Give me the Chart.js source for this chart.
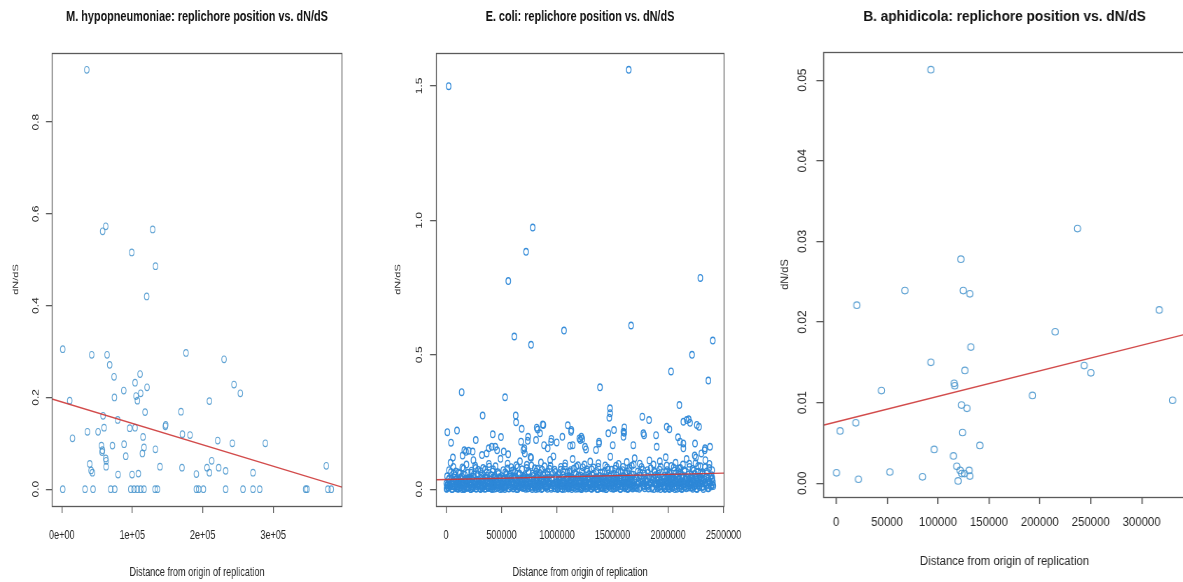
<!DOCTYPE html>
<html><head><meta charset="utf-8">
<script src="https://cdn.jsdelivr.net/npm/chart.js@4.4.1/dist/chart.umd.min.js"></script>
<style>
html,body{margin:0;padding:0;background:#fff;overflow:hidden;width:1183px;height:582px;position:relative;}
canvas{position:absolute;top:0;transform-origin:0 0;}
</style></head><body>
<canvas id="c1" width="546" height="582" style="left:0px;transform:scaleX(0.7)"></canvas>
<canvas id="c2" width="549" height="582" style="left:380px;transform:scaleX(0.7)"></canvas>
<canvas id="c3" width="480" height="582" style="left:770px;transform:scaleX(0.95)"></canvas>
<script>
// ---------- M. hypopneumoniae ----------
const mhypX = [35500,58000,62400,129000,99300,133000,120500,
  1400,42500,64300,68000,74200,104000,111100,121000,88000,74700,
  105400,107300,112000,11300,176300,230300,244400,253400,209500,169200,
  118200,58600,79400,147500,147000,96400,104000,36400,51500,60000,
  115300,15200,171200,182000,221300,242100,288900,88400,71900,56300,
  57700,57200,116700,132900,114400,90800,62400,63000,212800,39700,
  62900,139400,170600,206100,222700,375400,41600,43500,209500,232600,
  271400,79900,99800,108700,191000,
  1400,33000,44400,69500,75200,97900,102600,107300,112000,116700,
  132400,135700,191000,194300,201000,232600,257200,271400,280900,346100,
  348000,377700,382500];
const mhypY = [0.914,0.562,0.573,0.566,0.516,0.486,0.42,
  0.305,0.293,0.293,0.271,0.245,0.232,0.251,0.222,0.215,0.2,
  0.203,0.193,0.209,0.193,0.297,0.283,0.228,0.209,0.192,0.169,
  0.168,0.16,0.151,0.14,0.137,0.133,0.134,0.125,0.125,0.134,
  0.114,0.111,0.12,0.118,0.106,0.1,0.1,0.098,0.095,0.095,
  0.085,0.081,0.091,0.087,0.078,0.072,0.067,0.062,0.062,0.055,
  0.049,0.049,0.047,0.047,0.047,0.051,0.041,0.036,0.036,0.04,
  0.036,0.032,0.032,0.034,0.033,
  0,0,0,0,0,0,0,0,0,0,
  0,0,0,0,0,0,0,0,0,0,
  0,0,0];
const mhypLineX = [-13844, 397744];
const mhypLineY = [0.1967, 0.0044];
const mhypXTicks = [0, 100000, 200000, 300000];
const mhypXLabels = ["0e+00", "1e+05", "2e+05", "3e+05"];
const mhypYTicks = [0, 0.2, 0.4, 0.6, 0.8];
const mhypYLabels = ["0.0", "0.2", "0.4", "0.6", "0.8"];

// ---------- E. coli ----------
const ecoliBandX = [
  8000,14000,21000,30000,37000,45000,52000,60000,66000,73000,79000,86000,91000,97000,41000,62000,
  104000,109000,117000,123000,131000,138000,144000,152000,158000,165000,171000,177000,184000,190000,196000,149000,
  203000,210000,216000,224000,229000,236000,243000,250000,257000,263000,270000,276000,283000,289000,295000,247000,
  302000,308000,315000,321000,328000,334000,341000,347000,354000,360000,367000,373000,380000,386000,393000,399000,
  401000,407000,414000,420000,427000,433000,440000,446000,452000,459000,465000,472000,478000,485000,491000,497000,
  503000,509000,516000,522000,529000,535000,542000,548000,555000,561000,568000,574000,581000,587000,594000,598000,
  601000,608000,614000,620000,627000,633000,640000,646000,653000,659000,666000,672000,679000,685000,692000,698000,
  702000,709000,715000,722000,728000,735000,741000,748000,754000,761000,767000,774000,780000,787000,793000,799000,
  803000,809000,816000,822000,829000,835000,842000,848000,855000,861000,868000,874000,881000,887000,894000,899000,
  902000,908000,915000,921000,928000,934000,941000,948000,956000,963000,971000,979000,986000,993000,938000,967000,
  1003000,1009000,1016000,1022000,1029000,1035000,1042000,1048000,1055000,1061000,1068000,1074000,1081000,1087000,1094000,1099000,
  1102000,1108000,1115000,1121000,1128000,1134000,1141000,1147000,1154000,1160000,1167000,1173000,1180000,1186000,1193000,1198000,
  1203000,1209000,1216000,1222000,1229000,1235000,1242000,1248000,1255000,1261000,1268000,1274000,1281000,1287000,1294000,1299000,
  1302000,1308000,1315000,1321000,1328000,1334000,1341000,1347000,1354000,1360000,1367000,1373000,1380000,1386000,1393000,1399000,
  1402000,1408000,1415000,1421000,1428000,1434000,1441000,1447000,1454000,1460000,1467000,1473000,1480000,1486000,1493000,1499000,
  1503000,1509000,1516000,1522000,1529000,1535000,1542000,1548000,1555000,1561000,1568000,1574000,1581000,1587000,1594000,1599000,
  1602000,1608000,1615000,1621000,1628000,1634000,1641000,1647000,1654000,1660000,1667000,1673000,1680000,1686000,1693000,1699000,
  1703000,1711000,1719000,1727000,1736000,1744000,1752000,1761000,1769000,1778000,1786000,1794000,1745000,1772000,
  1803000,1811000,1819000,1828000,1836000,1844000,1853000,1861000,1869000,1878000,1886000,1894000,1832000,1874000,
  1902000,1909000,1916000,1923000,1930000,1937000,1956000,1962000,1969000,1975000,1982000,1988000,1995000,1999000,1926000,1979000,
  2003000,2009000,2016000,2022000,2029000,2035000,2042000,2048000,2055000,2061000,2068000,2074000,2081000,2087000,2094000,2099000,
  2102000,2108000,2115000,2121000,2128000,2134000,2141000,2147000,2154000,2160000,2167000,2173000,2180000,2186000,2193000,2199000,
  2202000,2208000,2215000,2221000,2228000,2234000,2241000,2247000,2254000,2260000,2268000,2276000,2284000,2292000,2251000,2289000,
  2302000,2309000,2317000,2325000,2333000,2341000,2349000,2357000,2365000,2373000,2381000,2389000,2397000,2404000,2336000,2392000];
const ecoliBandY = [
  .003,.018,.007,.041,.012,.064,.001,.029,.083,.010,.052,.016,.036,.005,.098,.118,
  .011,.002,.034,.058,.015,.006,.047,.022,.077,.001,.013,.039,.092,.008,.061,.125,
  .006,.043,.014,.001,.069,.025,.009,.055,.017,.087,.004,.033,.012,.072,.021,.108,
  .015,.003,.051,.027,.008,.079,.019,.002,.044,.013,.062,.031,.005,.094,.023,.011,
  .009,.036,.001,.066,.018,.011,.049,.085,.004,.028,.016,.057,.007,.039,.113,.021,
  .002,.024,.071,.013,.042,.006,.058,.017,.095,.031,.003,.047,.011,.082,.026,.014,
  .017,.005,.038,.063,.010,.089,.022,.001,.053,.014,.104,.033,.007,.074,.019,.046,
  .008,.052,.016,.029,.091,.003,.067,.012,.041,.021,.117,.006,.058,.035,.015,.078,
  .013,.001,.045,.076,.024,.009,.061,.018,.099,.035,.004,.054,.027,.085,.011,.039,
  .006,.027,.064,.011,.042,.019,.087,.002,.033,.058,.015,.072,.004,.046,.109,.122,
  .019,.004,.056,.031,.012,.083,.025,.001,.067,.043,.009,.096,.016,.037,.062,.008,
  .003,.048,.014,.071,.026,.007,.112,.039,.018,.059,.002,.084,.029,.011,.051,.021,
  .011,.034,.002,.065,.017,.045,.008,.092,.027,.014,.074,.005,.039,.057,.021,.103,
  .016,.003,.053,.028,.081,.010,.041,.019,.068,.001,.035,.097,.013,.049,.024,.007,
  .005,.062,.022,.011,.044,.088,.001,.031,.015,.073,.038,.009,.121,.055,.018,.027,
  .014,.037,.004,.076,.025,.052,.009,.018,.094,.042,.002,.066,.029,.012,.083,.048,
  .008,.023,.059,.013,.101,.036,.003,.071,.019,.046,.011,.087,.027,.054,.006,.115,
  .012,.039,.004,.066,.021,.051,.008,.083,.029,.015,.058,.034,.095,.072,
  .028,.009,.061,.017,.044,.078,.003,.035,.092,.022,.052,.012,.107,.069,
  .019,.047,.006,.073,.031,.013,.011,.038,.002,.064,.024,.088,.016,.052,.104,.119,
  .004,.032,.057,.015,.086,.009,.043,.021,.069,.001,.098,.027,.012,.049,.036,.077,
  .013,.061,.025,.003,.044,.092,.017,.071,.008,.036,.112,.021,.054,.006,.083,.031,
  .007,.042,.018,.075,.029,.011,.058,.097,.003,.036,.064,.014,.047,.085,.118,.024,
  .021,.056,.009,.038,.081,.017,.066,.031,.004,.094,.045,.013,.071,.027,.108,.052];
const ecoliLowX = [
  5000,12000,19000,28000,36000,47000,58000,69000,81000,93000,
  103000,110000,118000,125000,133000,144000,153000,164000,176000,188000,
  207000,214000,222000,230000,239000,250000,261000,272000,284000,295000,
  305000,312000,319000,328000,336000,347000,358000,369000,381000,393000,
  403000,410000,417000,425000,433000,444000,453000,464000,476000,488000,
  507000,514000,522000,530000,539000,550000,561000,572000,584000,595000,
  605000,612000,619000,628000,636000,647000,658000,669000,681000,693000,
  703000,710000,717000,725000,733000,744000,753000,764000,776000,788000,
  807000,814000,822000,830000,839000,850000,861000,872000,884000,895000,
  905000,913000,926000,944000,958000,975000,990000,
  1005000,1012000,1019000,1028000,1036000,1047000,1058000,1069000,1081000,1093000,
  1103000,1110000,1117000,1125000,1133000,1144000,1153000,1164000,1176000,1188000,
  1207000,1214000,1222000,1230000,1239000,1250000,1261000,1272000,1284000,1295000,
  1305000,1312000,1319000,1328000,1336000,1347000,1358000,1369000,1381000,1393000,
  1403000,1410000,1417000,1425000,1433000,1444000,1453000,1464000,1476000,1488000,
  1507000,1514000,1522000,1530000,1539000,1550000,1561000,1572000,1584000,1595000,
  1605000,1612000,1619000,1628000,1636000,1647000,1658000,1669000,1681000,1693000,
  1708000,1724000,1741000,1757000,1776000,1790000,
  1807000,1823000,1840000,1858000,1873000,1890000,
  1905000,1913000,1921000,1933000,1941000,1958000,1966000,1974000,1986000,1994000,
  2005000,2012000,2019000,2028000,2036000,2047000,2058000,2069000,2081000,2093000,
  2103000,2110000,2118000,2125000,2133000,2144000,2153000,2164000,2176000,2188000,
  2207000,2214000,2222000,2230000,2239000,2250000,2261000,2272000,2284000,2295000,
  2305000,2318000,2331000,2346000,2359000,2372000,2386000,2401000];
const ecoliLowY = [
  .002,.014,.006,.025,.009,.019,.001,.031,.011,.004,
  .012,.003,.022,.007,.028,.001,.016,.009,.034,.005,
  .007,.027,.001,.013,.004,.021,.010,.002,.018,.030,
  .010,.001,.017,.005,.024,.012,.003,.029,.008,.020,
  .004,.019,.009,.032,.002,.013,.024,.006,.015,.001,
  .015,.006,.028,.001,.011,.035,.004,.018,.008,.023,
  .003,.021,.010,.016,.001,.026,.007,.033,.012,.005,
  .020,.008,.002,.029,.013,.005,.023,.010,.001,.017,
  .006,.030,.012,.003,.019,.009,.001,.025,.014,.008,
  .011,.002,.021,.007,.015,.004,.026,
  .001,.017,.008,.024,.004,.013,.031,.002,.020,.010,
  .013,.005,.027,.009,.001,.019,.006,.034,.011,.003,
  .004,.022,.001,.015,.010,.028,.003,.012,.007,.025,
  .018,.002,.011,.006,.031,.009,.020,.001,.014,.005,
  .009,.026,.003,.014,.007,.001,.021,.011,.033,.004,
  .002,.012,.024,.005,.017,.008,.029,.001,.010,.019,
  .014,.004,.009,.030,.001,.018,.006,.023,.003,.012,
  .006,.018,.002,.027,.010,.004,
  .015,.003,.023,.008,.001,.019,
  .003,.020,.011,.001,.026,.007,.016,.002,.030,.009,
  .010,.001,.028,.014,.005,.021,.008,.033,.002,.017,
  .005,.024,.012,.001,.018,.009,.030,.004,.014,.022,
  .019,.006,.002,.027,.011,.015,.001,.023,.008,.032,
  .008,.001,.022,.013,.004,.029,.010,.017];
const ecoliLow2X = [
  3000,16000,24000,33000,54000,64000,76000,99000,
  107000,121000,136000,148000,160000,173000,182000,198000,
  201000,218000,233000,242000,255000,268000,279000,292000,
  301000,316000,325000,339000,350000,363000,376000,397000,
  406000,421000,430000,438000,456000,470000,482000,494000,
  501000,519000,526000,544000,557000,566000,577000,589000,
  603000,616000,631000,642000,651000,663000,676000,688000,
  707000,720000,731000,738000,757000,771000,782000,796000,
  801000,818000,826000,845000,857000,866000,877000,891000,
  910000,931000,951000,968000,982000,
  1001000,1015000,1025000,1039000,1051000,1064000,1077000,1090000,
  1106000,1120000,1130000,1138000,1157000,1170000,1183000,1196000,
  1201000,1219000,1226000,1245000,1257000,1266000,1278000,1290000,
  1303000,1317000,1331000,1339000,1352000,1364000,1377000,1397000,
  1406000,1419000,1430000,1438000,1457000,1470000,1483000,1496000,
  1501000,1518000,1526000,1545000,1557000,1566000,1578000,1590000,
  1603000,1617000,1625000,1639000,1650000,1664000,1677000,1696000,
  1732000,1766000,1783000,
  1815000,1848000,1866000,
  1907000,1918000,1929000,1960000,1972000,1984000,1997000,
  2001000,2014000,2025000,2039000,2051000,2064000,2077000,2096000,
  2106000,2119000,2130000,2138000,2157000,2170000,2183000,2196000,
  2201000,2218000,2226000,2244000,2257000,2266000,2279000,2297000,
  2312000,2338000,2362000,2379000,2395000,2408000];
const ecoliLow2Y = [
  .021,.008,.037,.015,.026,.011,.042,.019,
  .029,.017,.040,.024,.003,.031,.020,.036,
  .033,.019,.038,.008,.041,.026,.035,.016,
  .022,.040,.013,.034,.018,.043,.009,.037,
  .026,.012,.043,.021,.038,.030,.042,.010,
  .020,.038,.009,.027,.043,.019,.033,.040,
  .027,.043,.018,.035,.012,.040,.024,.029,
  .038,.015,.040,.024,.032,.042,.026,.009,
  .021,.037,.042,.028,.016,.041,.033,.022,
  .036,.028,.040,.021,.012,
  .027,.036,.015,.042,.021,.030,.011,.039,
  .022,.037,.033,.041,.026,.014,.043,.031,
  .031,.008,.041,.020,.036,.023,.042,.017,
  .027,.039,.022,.036,.012,.043,.030,.040,
  .035,.041,.028,.020,.042,.026,.016,.039,
  .027,.041,.033,.038,.020,.043,.036,.025,
  .031,.040,.024,.041,.028,.037,.016,.035,
  .031,.040,.022,
  .030,.026,.041,
  .032,.040,.023,.027,.041,.035,.029,
  .024,.039,.041,.030,.036,.027,.042,.020,
  .038,.030,.041,.027,.039,.042,.035,.015,
  .026,.040,.036,.021,.043,.030,.038,.041,
  .035,.026,.040,.024,.038,.012];
const ecoliMidX = [
  10000,27000,49000,71000,88000, 113000,128000,147000,169000,186000,
  206000,227000,245000,266000,287000, 311000,331000,352000,371000,389000,
  405000,424000,443000,468000,486000, 512000,533000,553000,571000,592000,
  606000,624000,644000,663000,689000, 706000,726000,746000,769000,784000,
  812000,826000,846000,866000,891000, 911000,932000,952000,984000,
  1013000,1033000,1051000,1071000,1091000, 1111000,1131000,1150000,1171000,1189000,
  1212000,1232000,1251000,1271000,1291000, 1311000,1331000,1351000,1371000,1391000,
  1412000,1431000,1451000,1471000,1491000, 1511000,1532000,1551000,1571000,1591000,
  1611000,1631000,1651000,1671000,1691000, 1715000,1748000,1781000, 1815000,1849000,1881000,
  1911000,1934000,1964000,1991000, 2011000,2031000,2051000,2071000,2091000,
  2111000,2131000,2151000,2171000,2191000, 2211000,2231000,2251000,2271000,2291000,
  2313000,2343000,2371000,2399000];
const ecoliMidY = [
  .048,.071,.039,.058,.066, .062,.044,.081,.053,.037,
  .039,.061,.047,.079,.055, .067,.038,.073,.049,.084,
  .052,.074,.041,.063,.045, .036,.063,.077,.054,.068,
  .071,.046,.082,.058,.039, .044,.079,.061,.088,.049,
  .066,.052,.037,.072,.059, .053,.076,.041,.064,
  .041,.072,.053,.085,.047, .065,.043,.076,.056,.089,
  .051,.082,.038,.066,.046, .074,.058,.044,.083,.061,
  .039,.068,.081,.047,.072, .058,.087,.064,.041,.071,
  .043,.066,.079,.055,.092, .047,.062,.041, .071,.038,.064,
  .058,.084,.049,.071, .062,.044,.081,.059,.067,
  .079,.052,.066,.043,.095, .055,.069,.042,.086,.061,
  .063,.046,.079,.041];
const ecoliHighX = [24000,1646000,781000,721000,561000,2291000,615000,766000,1063000,1667000,
  2403000,2216000,2027000,2363000,1387000,141000,532000,2102000,1477000,1471000,
  330000,628000,1768000,1829000,631000,2186000,2138000,877000,817000,1097000,
  1129000,682000,12000,99000,45000,421000,495000,268000,739000,1513000,
  1606000,1606000,1462000,1784000,1892000,1988000,2012000,2259000,2279000,2090000,
  2138000,1048000,949000,997000,1219000,1228000,1210000,1378000,1351000,1261000,
  1687000,883000,1117000,1898000,1502000,2378000,204000,165000,240000,366000,
  444000,460000,520000,560000,697000,710000,760000,2330000,2300000,2240000,
  676000,736000,811000,826000,871000,847000,946000,1141000,1201000,180000,
  324000,385000,412000,706000,916000,1126000,1478000,2168000,2198000,1598000,
  1598000,1778000,1378000,1252000,2108000,2138000,2243000,2333000];
const ecoliHighY = [1.499,1.56,0.973,0.883,0.774,0.786,0.568,0.537,0.59,0.609,
  0.553,0.5,0.438,0.404,0.379,0.361,0.342,0.313,0.301,0.266,
  0.274,0.274,0.27,0.257,0.249,0.26,0.251,0.239,0.229,0.238,
  0.22,0.225,0.212,0.218,0.173,0.204,0.194,0.183,0.195,0.22,
  0.23,0.21,0.208,0.201,0.201,0.232,0.223,0.239,0.232,0.193,
  0.17,0.195,0.187,0.174,0.195,0.187,0.183,0.17,0.146,0.148,
  0.164,0.164,0.162,0.158,0.164,0.158,0.143,0.145,0.14,0.133,
  0.158,0.145,0.14,0.13,0.146,0.133,0.12,0.145,0.133,0.125,
  0.177,0.18,0.183,0.222,0.241,0.208,0.177,0.164,0.189,0.139,
  0.127,0.152,0.158,0.152,0.152,0.214,0.283,0.257,0.247,0.214,
  0.195,0.208,0.177,0.158,0.177,0.152,0.17,0.152];
const ecoliLineX = [-90000, 2504000];
const ecoliLineY = [0.035, 0.060];
const ecoliXTicks = [0, 500000, 1000000, 1500000, 2000000, 2500000];
const ecoliXLabels = ["0", "500000", "1000000", "1500000", "2000000", "2500000"];
const ecoliYTicks = [0, 0.5, 1.0, 1.5];
const ecoliYLabels = ["0.0", "0.5", "1.0", "1.5"];

// ---------- B. aphidicola ----------
const baphX = [93000,237000,122500,67500,124800,131300,
  20300,317300,215100,132300,93000,126400,243600,250200,115900,116500,
  44500,192800,330400,123100,128400,19300,3900,124100,141100,96300,
  115200,118500,121800,130600,123400,126000,131300,119800,300,21900,
  52700,84800];
const baphY = [0.0513,0.0316,0.0278,0.0239,0.0239,0.0235,
  0.0221,0.0215,0.0188,0.0169,0.015,0.014,0.0146,0.0137,0.0124,0.0121,
  0.0115,0.0109,0.0103,0.0097,0.0093,0.0075,0.0065,0.0063,0.0047,0.0042,
  0.0034,0.0021,0.0016,0.0016,0.0012,0.0012,0.0009,0.0003,0.0013,0.0005,
  0.0014,0.0008];
const baphLineX = [-12900, 343600];
const baphLineY = [0.0072, 0.0185];
const baphXTicks = [0, 50000, 100000, 150000, 200000, 250000, 300000];
const baphXLabels = ["0", "50000", "100000", "150000", "200000", "250000", "300000"];
const baphYTicks = [0, 0.01, 0.02, 0.03, 0.04, 0.05];
const baphYLabels = ["0.00", "0.01", "0.02", "0.03", "0.04", "0.05"];

// ---------- drawing ----------
const FONT = "'Liberation Sans',Arial,Helvetica,sans-serif";
const PT_COLOR_DENSE = 'rgba(45,135,215,0.95)';
const PT_COLOR_SPARSE = 'rgba(70,148,205,0.85)';
const LINE_COLOR = 'rgba(205,55,55,0.9)';
const AXIS_COLOR = '#5a5a5a';
const TXT = '#262626';

const boxPlugin = {
  id: 'rbox',
  afterDraw(chart) {
    const a = chart.chartArea, ctx = chart.ctx;
    ctx.save();
    ctx.strokeStyle = AXIS_COLOR; ctx.lineWidth = 1.3;
    ctx.strokeRect(Math.round(a.left) + 0.5, Math.round(a.top) + 0.5,
      Math.round(a.right - a.left), Math.round(a.bottom - a.top));
    ctx.restore();
  }
};

function pairs(xs, ys) {
  const n = Math.min(xs.length, ys.length), out = [];
  for (let i = 0; i < n; i++) out.push({x: xs[i], y: ys[i]});
  return out;
}

function makeChart(id, o) {
  return new Chart(document.getElementById(id), {
    type: 'scatter',
    data: { datasets: [
      { data: pairs(o.lx, o.ly), showLine: true, borderColor: LINE_COLOR, borderWidth: 1.4,
        pointRadius: 0, fill: false, order: 0 },
      { data: o.pts, pointStyle: 'circle', pointRadius: 3.3, borderWidth: o.ptW,
        borderColor: o.ptColor, backgroundColor: 'rgba(0,0,0,0)', order: 1 }
    ]},
    options: {
      responsive: false, animation: false, events: [],
      layout: { padding: { left: 0, right: o.padR, top: 0, bottom: 0 } },
      plugins: {
        legend: { display: false }, tooltip: { enabled: false },
        title: { display: true, text: o.title, fullSize: false, color: '#111',
          font: { family: FONT, size: o.tSize, weight: 'bold', lineHeight: 1.2 },
          padding: { top: o.tPadTop, bottom: o.tPadBot } }
      },
      scales: {
        x: {
          type: 'linear', min: o.xmin, max: o.xmax,
          afterFit: s => { s.height = o.xH; },
          afterBuildTicks: s => { s.ticks = o.xt.map(v => ({ value: v })); },
          ticks: { callback: (v, i) => o.xl[i], padding: o.xtPad, autoSkip: false, maxRotation: 0,
            color: TXT, font: { family: FONT, size: o.xtSize } },
          grid: { drawOnChartArea: false, drawTicks: true, tickLength: 7, color: AXIS_COLOR, lineWidth: 1.3 },
          border: { display: false },
          title: { display: true, text: 'Distance from origin of replication', color: TXT,
            font: { family: FONT, size: o.xTitleSize }, padding: { top: 0, bottom: o.xTitlePad } }
        },
        y: {
          type: 'linear', min: o.ymin, max: o.ymax,
          afterFit: s => { s.width = o.yW; },
          afterBuildTicks: s => { s.ticks = o.yt.map(v => ({ value: v })); },
          ticks: { callback: (v, i) => o.yl[i], padding: o.ytPad, autoSkip: false,
            minRotation: 90, maxRotation: 90, crossAlign: 'center',
            color: TXT, font: { family: FONT, size: 12 } },
          grid: { drawOnChartArea: false, drawTicks: true, tickLength: o.yTick, color: AXIS_COLOR, lineWidth: 1.3 },
          border: { display: false },
          title: { display: true, text: 'dN/dS', color: TXT,
            font: { family: FONT, size: 11 }, padding: { top: o.yTitlePad, bottom: 0 } }
        }
      }
    },
    plugins: [boxPlugin]
  });
}

makeChart('c1', {
  title: 'M. hypopneumoniae: replichore position vs. dN/dS', tSize: 15.5, tPadTop: 7.7, tPadBot: 26.7,
  pts: pairs(mhypX, mhypY), lx: mhypLineX, ly: mhypLineY, ptW: 1.15, ptColor: PT_COLOR_SPARSE,
  xmin: -13844, xmax: 397744, ymin: -0.0366, ymax: 0.9506,
  xt: mhypXTicks, xl: mhypXLabels, yt: mhypYTicks, yl: mhypYLabels,
  padR: 57.4, yW: 74.3, xH: 76, xtSize: 13, xtPad: 14.2, xTitleSize: 13, xTitlePad: 2.2,
  yTick: 8.6, ytPad: 6, yTitlePad: 16.3
});
makeChart('c2', {
  title: 'E. coli: replichore position vs. dN/dS', tSize: 15.5, tPadTop: 7.7, tPadBot: 26.7,
  pts: pairs(ecoliLowX, ecoliLowY).concat(pairs(ecoliLow2X, ecoliLow2Y), pairs(ecoliBandX, ecoliBandY),
       pairs(ecoliMidX, ecoliMidY), pairs(ecoliHighX, ecoliHighY)),
  lx: ecoliLineX, ly: ecoliLineY, ptW: 1.4, ptColor: PT_COLOR_DENSE,
  xmin: -90000, xmax: 2504000, ymin: -0.0624, ymax: 1.6224,
  xt: ecoliXTicks, xl: ecoliXLabels, yt: ecoliYTicks, yl: ecoliYLabels,
  padR: 57.6, yW: 80, xH: 76, xtSize: 13, xtPad: 14.2, xTitleSize: 13, xTitlePad: 2.2,
  yTick: 8.6, ytPad: 6, yTitlePad: 19.1
});
makeChart('c3', {
  title: 'B. aphidicola: replichore position vs. dN/dS', tSize: 14.4, tPadTop: 8.4, tPadBot: 26.3,
  pts: pairs(baphX, baphY), lx: baphLineX, ly: baphLineY, ptW: 1.1, ptColor: PT_COLOR_SPARSE,
  xmin: -12900, xmax: 343600, ymin: -0.0017, ymax: 0.0535,
  xt: baphXTicks, xl: baphXLabels, yt: baphYTicks, yl: baphYLabels,
  padR: 42.1, yW: 55.8, xH: 85, xtSize: 12, xtPad: 11.8, xTitleSize: 12, xTitlePad: 12.8,
  yTick: 7, ytPad: 2.4, yTitlePad: 9.2
});
</script>
</body></html>
